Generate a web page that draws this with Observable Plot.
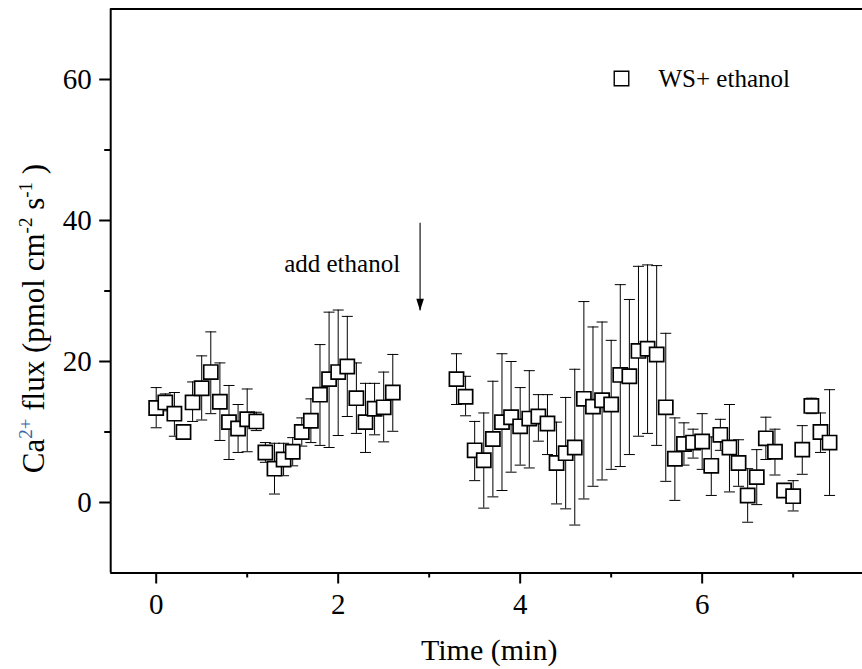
<!DOCTYPE html>
<html><head><meta charset="utf-8">
<script src="https://cdn.jsdelivr.net/npm/d3@7"></script>
<script src="https://cdn.jsdelivr.net/npm/@observablehq/plot@0.6"></script>
<style>body{margin:0;background:#fff}</style>
</head><body><div id="chart"></div>
<script>
// ---- data ----
const time = [0,0.1,0.2,0.3,0.4,0.5,0.6,0.7,0.8,0.9,1.0,1.1,1.2,1.3,1.4,1.5,1.6,1.7,1.8,1.9,2.0,2.1,2.2,2.3,2.4,2.5,2.6,
  3.3,3.4,3.5,3.6,3.7,3.8,3.9,4.0,4.1,4.2,4.3,4.4,4.5,4.6,4.7,4.8,4.9,5.0,5.1,5.2,5.3,5.4,5.5,5.6,5.7,5.8,5.9,6.0,
  6.1,6.2,6.3,6.4,6.5,6.6,6.7,6.8,6.9,7.0,7.1,7.2,7.3,7.4];
const flux = [13.4,14.2,12.6,10.0,14.2,16.2,18.5,14.3,11.4,10.5,11.8,11.5,7.1,4.8,6.1,7.2,10.0,11.6,15.3,17.5,18.5,19.3,14.8,11.4,13.3,13.5,15.6,
  17.5,15.0,7.4,6.0,9.0,11.4,12.1,10.8,11.9,12.2,11.2,5.6,7.0,7.8,14.7,13.6,14.5,13.9,18.1,17.9,21.5,21.8,21.0,13.5,6.2,8.3,8.5,8.65,
  5.2,9.6,7.8,5.6,1.0,3.6,9.1,7.2,1.7,0.9,7.5,13.7,10.0,8.5];
const fluxLow = [10.6,13.0,9.4,9.1,11.5,11.7,12.6,8.8,6.1,7.1,7.2,10.2,5.7,1.2,3.8,5.2,8.0,8.5,8.1,7.8,9.5,12.2,9.8,7.1,9.6,8.6,10.1,
  13.9,12.3,3.1,-0.8,0.8,1.7,4.3,5.3,4.9,8.7,6.8,-0.2,-0.9,-3.2,0.5,2.3,3.2,4.7,5.1,6.8,9.4,9.8,8.1,3.0,0.3,5.3,6.3,4.7,
  1.0,7.4,1.5,2.3,-2.8,-0.3,6.1,3.9,1.2,-1.2,4.0,12.6,7.1,1.0];
const fluxHigh = [16.3,15.4,15.6,10.9,17.1,20.8,24.2,19.8,16.6,13.9,16.1,12.8,8.5,8.4,8.4,9.2,12.0,14.7,22.4,27.0,27.3,26.4,19.8,16.9,16.9,18.5,21.0,
  21.1,17.9,11.5,12.7,17.2,21.1,20.0,16.3,18.7,15.3,15.3,11.4,14.9,18.9,28.5,24.9,25.6,23.0,30.9,28.8,33.5,33.7,33.6,24.0,12.0,11.3,10.4,12.6,
  9.3,11.8,13.9,8.9,4.8,7.5,12.1,10.4,2.2,3.1,10.9,14.8,12.7,16.0];
const xTicks = [0, 2, 4, 6];
const xMinorTicks = [1, 3, 5, 7];
const yTicks = [0, 20, 40, 60];
const yMinorTicks = [10, 30, 50];
const seriesName = "WS+ ethanol";
const annotation = [{label: "add ethanol", time: 2.9, textY: 32.7, arrowTop: 39.6, arrowBottom: 27.2}];
const xTitle = "Time (min)";
const yTitle = "Ca2+ flux (pmol cm-2 s-1)";

const data = time.map((t, i) => ({t, v: flux[i], lo: fluxLow[i], hi: fluxHigh[i]}));

const FONT = "'Liberation Serif', 'Times New Roman', serif";
const capSymbol = {draw(ctx) { ctx.moveTo(-5.5, 0); ctx.lineTo(5.5, 0); }};
const headSymbol = {draw(ctx) { ctx.moveTo(0, 0); ctx.lineTo(-3.8, -12); ctx.lineTo(3.8, -12); ctx.closePath(); }};

const chart = Plot.plot({
  width: 862,
  height: 669,
  marginLeft: 110.2,
  marginRight: 0,
  marginTop: 8.5,
  marginBottom: 96.5,
  style: {background: "white", fontFamily: FONT, fontSize: "29px", color: "black", overflow: "visible"},
  x: {domain: [-0.5, 7.762]},
  y: {domain: [-10, 70]},
  marks: [
    Plot.axisY({ticks: yTicks, tickSize: 11, tickPadding: 8, strokeWidth: 2, label: null, fontSize: 29}),
    Plot.axisY({ticks: yMinorTicks, tickSize: 6, strokeWidth: 2, text: null, label: null}),
    Plot.axisX({ticks: xTicks, tickSize: 11, tickPadding: 9, strokeWidth: 2, label: null, fontSize: 29}),
    Plot.axisX({ticks: xMinorTicks, tickSize: 5, strokeWidth: 2, text: null, label: null}),
    Plot.ruleY([-10, 70], {stroke: "black", strokeWidth: 2}),
    Plot.ruleX([-0.5], {stroke: "black", strokeWidth: 2}),
    // error bars
    Plot.ruleX(data, {x: "t", y1: "lo", y2: "hi", stroke: "black", strokeWidth: 1}),
    Plot.dot(data, {x: "t", y: "hi", symbol: capSymbol, fill: "none", stroke: "black", strokeWidth: 1}),
    Plot.dot(data, {x: "t", y: "lo", symbol: capSymbol, fill: "none", stroke: "black", strokeWidth: 1}),
    // squares
    Plot.dot(data, {x: "t", y: "v", symbol: "square", r: 8, fill: "white", stroke: "black", strokeWidth: 1.7}),
    // annotation
    Plot.ruleX(annotation, {x: "time", y1: "arrowTop", y2: "arrowBottom", stroke: "black", strokeWidth: 1.1}),
    Plot.dot(annotation, {x: "time", y: "arrowBottom", symbol: headSymbol, fill: "black", stroke: "none"}),
    Plot.text(annotation, {x: "time", y: "textY", text: "label", dx: -20, textAnchor: "end", lineAnchor: "bottom", fontSize: 25, fill: "black"}),
    // legend
    Plot.dot([seriesName], {frameAnchor: "top-right", dx: -241, dy: 69.5, symbol: "square", r: 8.2, fill: "white", stroke: "black", strokeWidth: 1.4}),
    Plot.text([seriesName], {frameAnchor: "top-right", dx: -204, dy: 77.5, textAnchor: "start", lineAnchor: "bottom", fontSize: 25, fill: "black"}),
    // axis titles
    Plot.text([xTitle], {frameAnchor: "bottom", dx: 2.6, dy: 86.5, textAnchor: "middle", lineAnchor: "bottom", fontSize: 30, fill: "black"}),
    Plot.text([yTitle], {frameAnchor: "left", dx: -67.2, dy: 27.5, rotate: -90, textAnchor: "middle", lineAnchor: "bottom", fontSize: 31, fill: "black"})
  ]
});

document.getElementById("chart").appendChild(chart);

// rich text (superscripts) for the y title
d3.select(chart).selectAll("text").filter(function () { return this.textContent === yTitle; }).each(function () {
  const t = d3.select(this);
  t.text(null);
  const parts = [["Ca", false], ["2+", true], [" flux (pmol cm", false], ["-2", true], [" s", false], ["-1", true], [" )", false]];
  let raised = false;
  for (const [s, sup] of parts) {
    const span = t.append("tspan").text(s);
    if (sup) { span.attr("font-size", 19).attr("dy", -12); raised = true; if (s === "2+") span.attr("fill", "#3a64a8"); }
    else if (raised) { span.attr("dy", 12); raised = false; }
  }
});
</script>
</body></html>
